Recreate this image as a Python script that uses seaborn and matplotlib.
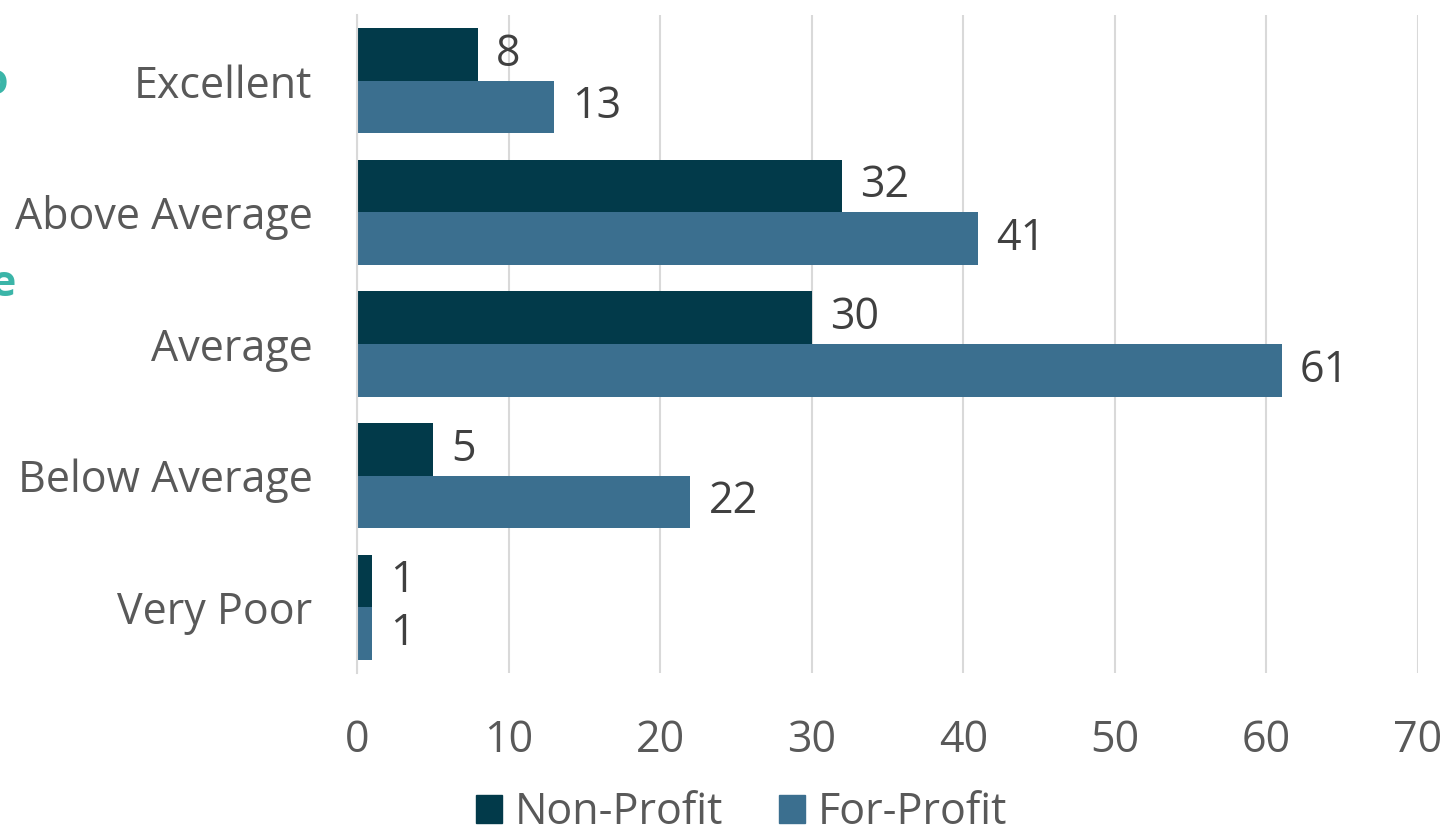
import matplotlib
matplotlib.use("Agg")
import matplotlib.pyplot as plt
import pandas as pd
import seaborn as sns

categories = ["Excellent", "Above Average", "Average", "Below Average", "Very Poor"]
non_profit = [8, 32, 30, 5, 1]
for_profit = [13, 41, 61, 22, 1]
series = ["Non-Profit", "For-Profit"]
colors = ["#023A4A", "#3B6F8F"]
x_ticks = [0, 10, 20, 30, 40, 50, 60, 70]

df = pd.DataFrame({
    "rating": categories * 2,
    "count": non_profit + for_profit,
    "group": [series[0]] * len(categories) + [series[1]] * len(categories),
})

sns.set_style("white")
plt.rcParams["font.family"] = ["Open Sans", "DejaVu Sans"]

fs = 31
fig = plt.figure(figsize=(14.56, 8.32), dpi=100)
ax = fig.add_axes([357 / 1456, 1 - 673 / 832, (1418 - 357) / 1456, (673 - 15) / 832])

sns.barplot(data=df, x="count", y="rating", hue="group", order=categories,
            hue_order=series, palette=colors, orient="h", width=0.8, gap=0,
            saturation=1, linewidth=0, ax=ax, legend=False)

for cont in ax.containers:
    ax.bar_label(cont, padding=13, fontsize=fs, color="#404040")

ax.set_xlim(0, 70)
ax.set_ylim(4.5, -0.5)
ax.set_xticks(x_ticks)
ax.xaxis.grid(True, color="#D9D9D9", linewidth=1.5)
ax.set_axisbelow(True)
for s in ["top", "right", "bottom"]:
    ax.spines[s].set_visible(False)
ax.spines["left"].set_color("#D9D9D9")
ax.spines["left"].set_linewidth(1.5)
ax.tick_params(axis="both", length=0, labelsize=fs, labelcolor="#595959")
ax.tick_params(axis="x", pad=33)
ax.tick_params(axis="y", pad=32)
ax.set_xlabel("")
ax.set_ylabel("")

handles = [plt.Rectangle((0, 0), 1, 1, color=c) for c in colors]
fig.legend(handles, series, loc="center", bbox_to_anchor=(742 / 1456, 1 - 813 / 832),
           ncol=2, frameon=False, fontsize=fs, labelcolor="#595959",
           handlelength=0.6, handleheight=0.6, handletextpad=0.3, columnspacing=1.3)

# clipped teal fragments at the left edge
fig.text(8 / 1456, 1 - 82 / 832, "o", color="#3BB5A8", fontsize=fs,
         fontweight="bold", ha="right", va="center")
fig.text(15 / 1456, 1 - 285 / 832, "e", color="#3BB5A8", fontsize=fs,
         fontweight="bold", ha="right", va="center")

fig.savefig("out.png", dpi=100)
